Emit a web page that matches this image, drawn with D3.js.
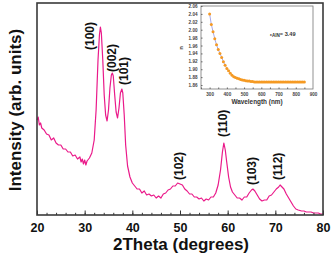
<!DOCTYPE html>
<html>
<head>
<meta charset="utf-8">
<script src="https://cdn.jsdelivr.net/npm/d3@7"></script>
<style>
  body { margin: 0; background: #fff; }
  text { font-family: "Liberation Sans", Arial, sans-serif; font-weight: bold; }
</style>
</head>
<body>
<svg class="xrd" width="332" height="254"></svg>
<script>
// XRD pattern (2theta in degrees, intensity in arb. units)
const twoTheta = [20.0, 20.25, 20.5, 20.75, 21.0, 21.5, 22.0, 22.5, 23.0, 23.5, 24.0, 24.5, 25.0, 25.5, 26.0,
  26.5, 27.0, 27.5, 28.0, 28.5, 29.0, 29.25, 29.5, 29.75, 30.0, 30.25, 30.5, 31.0, 31.5, 32.0, 32.4, 32.8,
  33.1, 33.3, 33.5, 33.8, 34.1, 34.4, 34.7, 35.0, 35.3, 35.6, 35.8, 36.0, 36.3, 36.6, 36.9, 37.2, 37.5,
  37.8, 38.0, 38.3, 38.6, 39.0, 39.5, 40.0, 40.5, 41.0, 41.5, 42.0, 42.5, 43.0, 43.5, 44.0, 44.5, 45.0,
  45.5, 46.0, 46.5, 47.0, 47.5, 48.0, 48.5, 49.0, 49.5, 50.0, 50.5, 51.0, 51.5, 52.0, 52.5, 53.0, 53.5,
  54.0, 54.5, 55.0, 55.5, 56.0, 56.5, 57.0, 57.5, 58.0, 58.5, 58.9, 59.2, 59.5, 59.8, 60.2, 60.6, 61.0,
  61.5, 62.0, 62.5, 63.0, 63.5, 64.0, 64.5, 65.0, 65.3, 65.7, 66.2, 66.7, 67.2, 67.7, 68.2, 68.7, 69.2,
  69.7, 70.2, 70.7, 71.0, 71.4, 71.8, 72.3, 72.8, 73.3, 73.8, 74.3, 74.8, 75.5, 76.0, 76.5, 77.0, 77.5,
  78.0, 78.5, 79.0, 79.5, 80.0];
const intensity = [95, 98, 90, 92, 87, 85, 81, 80, 75, 77, 72, 70, 70, 66, 66,
  63, 63, 59, 60, 56, 58, 53, 56, 51, 55, 50, 54, 57, 62, 75, 105, 155,
  180, 188, 182, 155, 120, 100, 94, 105, 127, 140, 142, 139, 120, 103, 97, 107, 122,
  126, 122, 100, 70, 49, 38, 32, 29, 26, 26, 22, 24, 20, 21, 19, 20, 17,
  19, 17, 21, 22, 25, 26, 29, 29, 32, 31, 30, 26, 24, 21, 21, 18, 18,
  16, 17, 14, 16, 15, 18, 18, 22, 30, 45, 63, 72, 65, 53, 38, 28, 23,
  20, 17, 17, 15, 18, 18, 22, 25, 26, 24, 20, 16, 14, 15, 15, 19, 20,
  23, 26, 28, 30, 28, 26, 21, 17, 13, 9, 6, 5, 4, 4, 3, 3, 3,
  2, 2, 2, 1, 1];

const xTicks = [20, 30, 40, 50, 60, 70, 80];

// peak annotations, anchored at (2theta, intensity) of the label's lower end
const peakNames = ["(100)", "(002)", "(101)", "(102)", "(110)", "(103)", "(112)"];
const labelTheta = [31.1, 35.6, 38.2, 49.8, 59.0, 65.0, 70.6];
const labelLevel = [165, 143, 130, 35, 78, 30, 35];

// inset: refractive index vs wavelength
const wavelength = [300, 310, 320, 330, 340, 350, 360, 370, 380, 390, 400, 410, 420, 430, 440, 450,
  460, 470, 480, 490, 500, 510, 520, 530, 540, 550, 560, 570, 580, 590, 600, 610, 620, 630, 640, 650,
  660, 670, 680, 690, 700, 710, 720, 730, 740, 750, 760, 770, 780, 790, 800, 810, 820, 830, 840, 850];
const refIndex = [2.040, 2.013, 1.995, 1.977, 1.962, 1.950, 1.940, 1.930, 1.919, 1.910, 1.902, 1.896,
  1.890, 1.885, 1.881, 1.879, 1.877, 1.876, 1.874, 1.873, 1.872, 1.871, 1.870, 1.870, 1.869, 1.869,
  1.868, 1.868, 1.868, 1.868, 1.868, 1.868, 1.868, 1.868, 1.868, 1.868, 1.868, 1.868, 1.868, 1.868,
  1.868, 1.868, 1.868, 1.868, 1.868, 1.868, 1.868, 1.868, 1.868, 1.868, 1.868, 1.868, 1.868, 1.868,
  1.868, 1.868];
const insetXTicks = [300, 400, 500, 600, 700, 800, 900];
const insetYTicks = [1.86, 1.88, 1.90, 1.92, 1.94, 1.96, 1.98, 2.00, 2.02, 2.04, 2.06];

drawMain();
drawInset();

function drawMain() {
    const left = 37, right = 323, top = 3, bottom = 215;
    const svg = d3.select(".xrd");

    const x = d3.scaleLinear().domain([20, 80]).range([left, right]);
    const y = d3.scaleLinear().domain([0, 212]).range([bottom, top]);

    const pts = twoTheta.map((t, i) => [t, intensity[i]]);

    svg.append("path")
        .datum(pts)
        .attr("fill", "none")
        .attr("stroke", "#ea1a8a")
        .attr("stroke-width", 1.2)
        .attr("stroke-linejoin", "round")
        .attr("d", d3.line().x(d => x(d[0])).y(d => y(d[1])));

    // minor ticks every 2 degrees
    svg.append("g")
        .attr("transform", `translate(0,${bottom})`)
        .call(d3.axisBottom(x).tickValues(d3.range(22, 80, 2)).tickSize(-2.2).tickFormat(""))
        .call(g => g.select(".domain").remove())
        .call(g => g.selectAll("line").attr("stroke", "#333"));

    // major ticks + labels
    svg.append("g")
        .attr("transform", `translate(0,${bottom})`)
        .call(d3.axisBottom(x).tickValues(xTicks).tickSize(-4.5).tickPadding(8.5))
        .call(g => g.select(".domain").remove())
        .call(g => g.selectAll("line").attr("stroke", "#333"))
        .call(g => g.selectAll("text")
            .style("font-size", "12.5px")
            .style("font-family", "'Liberation Sans', Arial, sans-serif")
            .attr("font-weight", "bold")
            .attr("fill", "#111"));

    // frame
    svg.append("rect")
        .attr("x", left)
        .attr("y", top)
        .attr("width", right - left)
        .attr("height", bottom - top)
        .attr("fill", "none")
        .attr("stroke", "#3a3a3a")
        .attr("stroke-width", 1.6);

    // peak labels
    svg.selectAll(".peak")
        .data(peakNames)
        .enter().append("text")
        .attr("class", "peak")
        .attr("transform", (d, i) => `translate(${x(labelTheta[i])},${y(labelLevel[i])}) rotate(-90)`)
        .attr("dy", "0.35em")
        .style("font-size", "12px")
        .attr("fill", "#111")
        .text(d => d);

    svg.append("text")
        .attr("x", 181)
        .attr("y", 250)
        .attr("text-anchor", "middle")
        .style("font-size", "17px")
        .attr("fill", "#111")
        .text("2Theta (degrees)");

    svg.append("text")
        .attr("transform", "translate(21,110) rotate(-90)")
        .attr("text-anchor", "middle")
        .style("font-size", "17px")
        .attr("fill", "#111")
        .text("Intensity (arb. units)");
}

function drawInset() {
    const left = 201, right = 313, top = 6, bottom = 89;
    const svg = d3.select(".xrd").append("g").attr("class", "inset");

    const x = d3.scaleLinear().domain([250, 900]).range([left, right]);
    const y = d3.scaleLinear().domain([1.85, 2.06]).range([bottom, top]);

    svg.append("rect")
        .attr("x", left)
        .attr("y", top)
        .attr("width", right - left)
        .attr("height", bottom - top)
        .attr("fill", "#fff")
        .attr("stroke", "#777")
        .attr("stroke-width", 0.8);

    svg.append("g")
        .attr("transform", `translate(0,${bottom})`)
        .call(d3.axisBottom(x).tickValues(d3.range(250, 900, 50)).tickSize(-1.5).tickFormat(""))
        .call(g => g.select(".domain").remove())
        .call(g => g.selectAll("line").attr("stroke", "#666"));

    svg.append("g")
        .attr("transform", `translate(0,${bottom})`)
        .call(d3.axisBottom(x).tickValues(insetXTicks).tickSize(0).tickPadding(3.5))
        .call(g => g.select(".domain").remove())
        .call(g => g.selectAll("text")
            .style("font-size", "4.6px")
            .style("font-family", "'Liberation Sans', Arial, sans-serif")
            .attr("font-weight", "bold")
            .attr("fill", "#444"));

    svg.append("g")
        .attr("transform", `translate(${left},0)`)
        .call(d3.axisLeft(y).tickValues(insetYTicks).tickSize(-1.5).tickPadding(3.5).tickFormat(d3.format(".2f")))
        .call(g => g.select(".domain").remove())
        .call(g => g.selectAll("line").attr("stroke", "#666"))
        .call(g => g.selectAll("text")
            .style("font-size", "4.6px")
            .style("font-family", "'Liberation Sans', Arial, sans-serif")
            .attr("font-weight", "bold")
            .attr("fill", "#444"));

    const pts = wavelength.map((w, i) => [w, refIndex[i]]);

    svg.append("path")
        .datum(pts)
        .attr("fill", "none")
        .attr("stroke", "#6c6cd8")
        .attr("stroke-width", 0.6)
        .attr("d", d3.line().x(d => x(d[0])).y(d => y(d[1])));

    svg.selectAll(".nd")
        .data(pts)
        .enter().append("circle")
        .attr("class", "nd")
        .attr("cx", d => x(d[0]))
        .attr("cy", d => y(d[1]))
        .attr("r", 1.5)
        .attr("fill", "#f59a23");

    svg.append("text")
        .attr("x", 257)
        .attr("y", 104)
        .attr("text-anchor", "middle")
        .style("font-size", "6.4px")
        .attr("fill", "#333")
        .text("Wavelength (nm)");

    svg.append("text")
        .attr("transform", "translate(183,48) rotate(-90)")
        .attr("text-anchor", "middle")
        .style("font-size", "6px")
        .attr("fill", "#333")
        .text("n");

    const note = svg.append("text")
        .attr("x", 270)
        .attr("y", 37)
        .attr("fill", "#333");
    note.append("tspan").style("font-size", "4px").attr("dy", -1).text("ε");
    note.append("tspan").style("font-size", "4.6px").attr("dy", 1).text("AlN");
    note.append("tspan").style("font-size", "5.6px").attr("dy", -1.5).text("= 3.49");
}
</script>
</body>
</html>
